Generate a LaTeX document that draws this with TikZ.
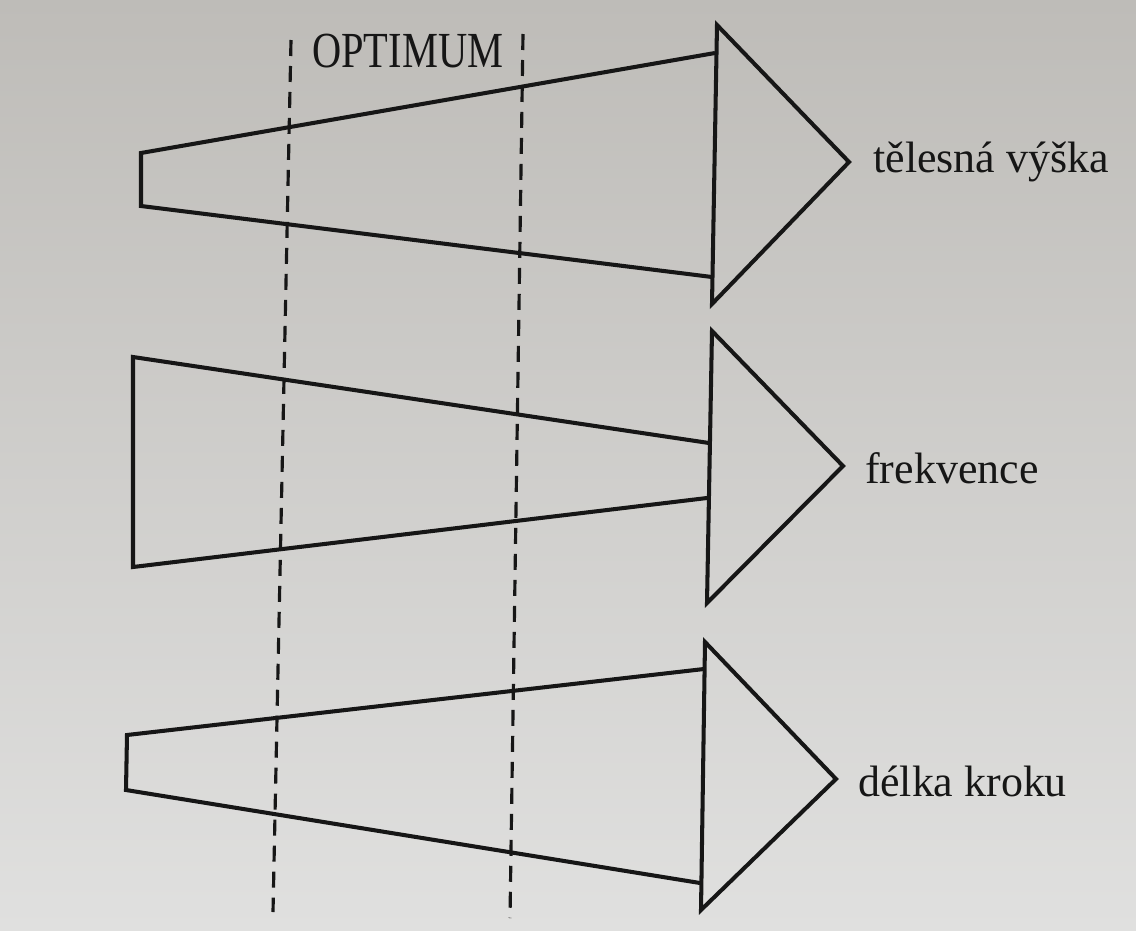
\documentclass[tikz,border=0pt]{standalone}
\usepackage{fontspec}
\setmainfont{Liberation Serif}
\usetikzlibrary{positioning}

\definecolor{paperTop}{RGB}{190,188,184}
\definecolor{paperBot}{RGB}{224,224,223}
\definecolor{ink}{RGB}{22,22,22}

\begin{document}
\begin{tikzpicture}[x=0.02cm,y=-0.02cm,
    bar/.style={draw=ink,line width=2.3pt,line join=miter},
    optline/.style={draw=ink,line width=1.8pt,dash pattern=on 0.32cm off 0.2cm},
    lbl/.style={font=\fontsize{25}{30}\selectfont,text=ink,anchor=base west,inner sep=0pt}]
    % paper
    \shade[top color=paperTop,bottom color=paperBot] (0,0) rectangle (1136,930);
    \useasboundingbox (0,0) rectangle (1136,930);

    % optimum zone
    \coordinate (o1top) at (291,40);
    \coordinate (o1bot) at (273,912);
    \coordinate (o2top) at (523,34);
    \coordinate (o2bot) at (510,918);
    \draw[optline] (o1top) -- (o1bot);
    \draw[optline] (o2top) -- (o2bot);
    \node[lbl,font=\fontsize{23}{28}\selectfont] (opt) at (312,67) {\scalebox{1}[1.25]{OPTIMUM}};

    % arrow 1
    \coordinate (t1a) at (141,153);
    \coordinate (t1b) at (141,206);
    \coordinate (b1a) at (715,53);
    \coordinate (b1b) at (712,277);
    \coordinate (h1a) at (717,25);
    \coordinate (h1b) at (712,304);
    \coordinate (p1) at (849,162);
    \draw[bar] (b1a) -- (t1a) -- (t1b) -- (b1b);
    \draw[bar] (h1a) -- (p1) -- (h1b) -- cycle;
    \node[lbl] (vyska) at (873,172) {tělesná výška};

    % arrow 2
    \coordinate (t2a) at (133,357);
    \coordinate (t2b) at (133,567);
    \coordinate (b2a) at (709,443);
    \coordinate (b2b) at (707,498);
    \coordinate (h2a) at (712,331);
    \coordinate (h2b) at (707,603);
    \coordinate (p2) at (843,466);
    \draw[bar] (b2a) -- (t2a) -- (t2b) -- (b2b);
    \draw[bar] (h2a) -- (p2) -- (h2b) -- cycle;
    \node[lbl] (frekvence) at (865,483) {frekvence};

    % arrow 3
    \coordinate (t3a) at (127,735);
    \coordinate (t3b) at (126,790);
    \coordinate (b3a) at (704,669);
    \coordinate (b3b) at (700,883);
    \coordinate (h3a) at (705,642);
    \coordinate (h3b) at (701,910);
    \coordinate (p3) at (836,779);
    \draw[bar] (b3a) -- (t3a) -- (t3b) -- (b3b);
    \draw[bar] (h3a) -- (p3) -- (h3b) -- cycle;
    \node[lbl] (krok) at (858,796) {délka kroku};
\end{tikzpicture}
\end{document}
